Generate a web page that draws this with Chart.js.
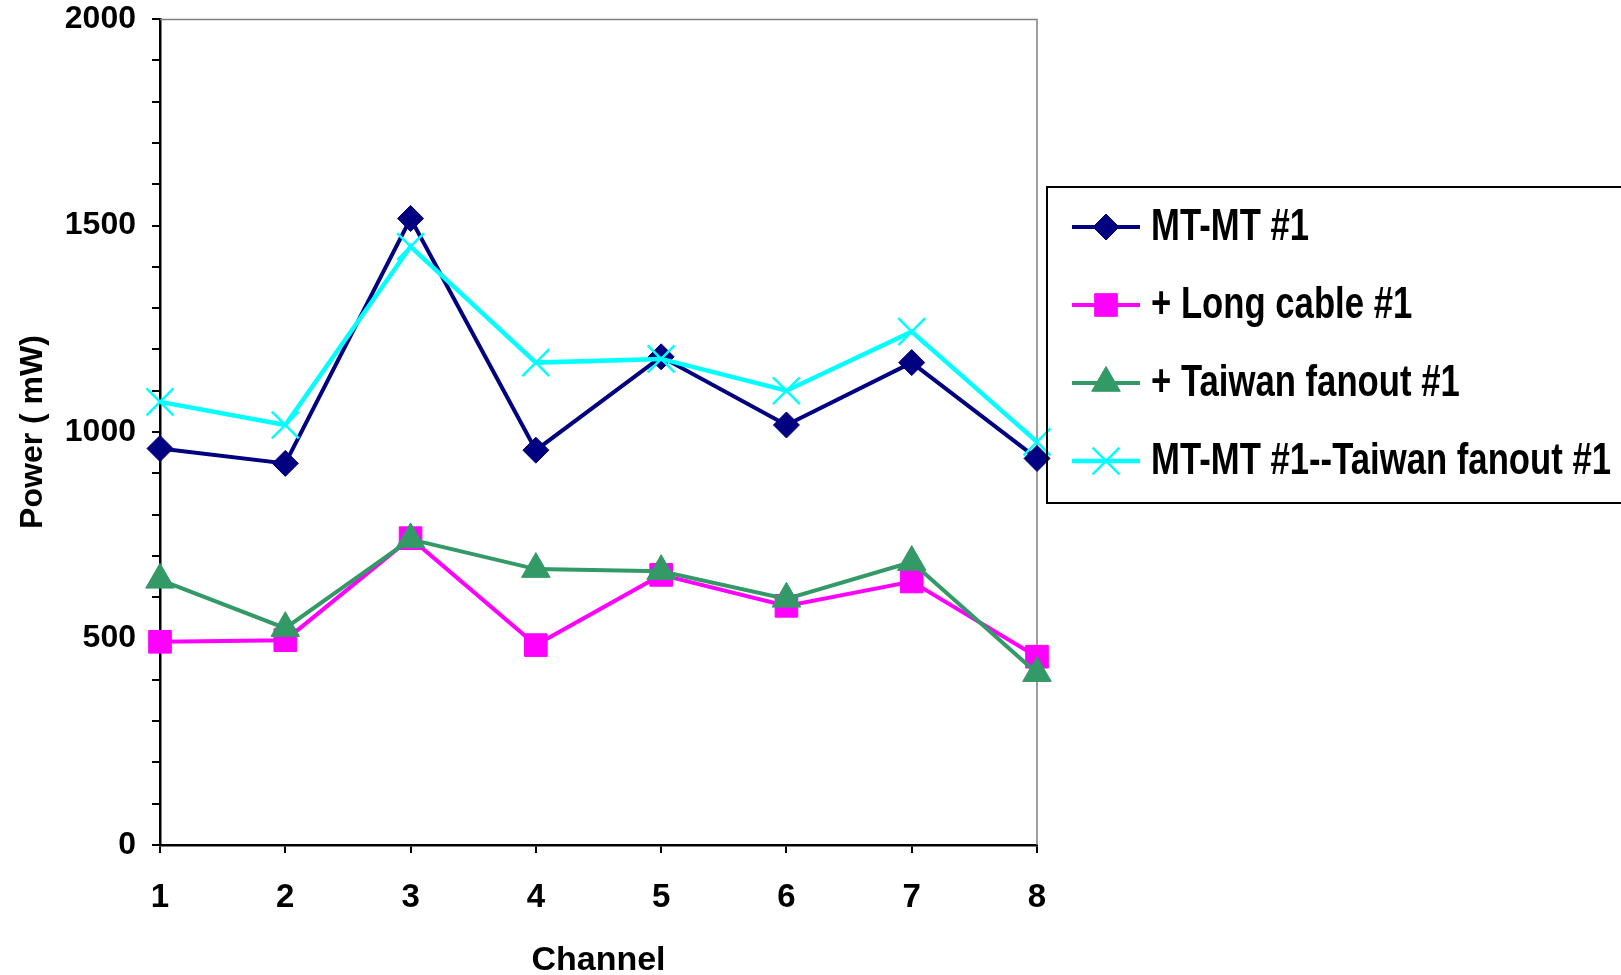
<!DOCTYPE html>
<html>
<head>
<meta charset="utf-8">
<script src="https://cdn.jsdelivr.net/npm/chart.js@4.4.1/dist/chart.umd.min.js"></script>
<style>
  html, body { margin: 0; padding: 0; background: #ffffff; }
  #wrap { width: 1621px; height: 975px; position: relative; }
</style>
</head>
<body>
<div id="wrap"><canvas id="c" width="1621" height="975"></canvas></div>
<script>
// ---- Data ----
const channels = ['1', '2', '3', '4', '5', '6', '7', '8'];
const mtmt1 = [960, 924, 1517, 956, 1182, 1017, 1168, 936];
const longCable1 = [492, 496, 743, 484, 654, 579, 638, 456];
const taiwanFanout1 = [642, 525, 740, 668, 663, 596, 685, 416];
const mtmtTaiwan1 = [1073, 1017, 1449, 1168, 1177, 1100, 1243, 976];
const seriesNames = ['MT-MT #1', '+ Long cable #1', '+ Taiwan fanout #1', 'MT-MT #1--Taiwan fanout #1'];
const yMin = 0, yMax = 2000, yMajor = 500, yMinor = 100;
const xTitle = 'Channel';
const yTitle = 'Power ( mW)';

const BOLD = 'bold';
const FAM = "'Liberation Sans', Arial, Helvetica, sans-serif";
const NARROW = "'Liberation Sans Narrow', 'Arial Narrow', 'Liberation Sans', Arial, sans-serif";

// Frame (top/right grey border of the plot area)
const framePlugin = {
  id: 'frame',
  beforeDatasetsDraw(chart) {
    const {ctx, chartArea: a} = chart;
    ctx.save();
    ctx.strokeStyle = '#808080';
    ctx.lineWidth = 1.5;
    ctx.beginPath();
    ctx.moveTo(a.left, a.top + 0.5);
    ctx.lineTo(a.right, a.top + 0.5);
    ctx.lineTo(a.right, a.bottom);
    ctx.stroke();
    ctx.restore();
  }
};

function drawMarker(ctx, style, x, y, r, color, bw) {
  ctx.save();
  ctx.fillStyle = color;
  ctx.strokeStyle = color;
  ctx.lineWidth = bw;
  ctx.beginPath();
  if (style === 'rectRot') {
    ctx.moveTo(x - r, y); ctx.lineTo(x, y - r); ctx.lineTo(x + r, y); ctx.lineTo(x, y + r); ctx.closePath();
    ctx.fill(); ctx.stroke();
  } else if (style === 'rect') {
    const s = Math.SQRT1_2 * r;
    ctx.rect(x - s, y - s, 2 * s, 2 * s);
    ctx.fill(); ctx.stroke();
  } else if (style === 'triangle') {
    let rad = 0;
    ctx.moveTo(x + Math.sin(rad) * r, y - Math.cos(rad) * r);
    rad += 2 * Math.PI / 3;
    ctx.lineTo(x + Math.sin(rad) * r, y - Math.cos(rad) * r);
    rad += 2 * Math.PI / 3;
    ctx.lineTo(x + Math.sin(rad) * r, y - Math.cos(rad) * r);
    ctx.closePath();
    ctx.fill(); ctx.stroke();
  } else if (style === 'crossRot') {
    const o = Math.SQRT1_2 * r;
    ctx.moveTo(x - o, y - o); ctx.lineTo(x + o, y + o);
    ctx.moveTo(x - o, y + o); ctx.lineTo(x + o, y - o);
    ctx.stroke();
  }
  ctx.restore();
}

// Custom legend box (right side, clipped by canvas edge like the reference)
const legendPlugin = {
  id: 'boxLegend',
  afterDraw(chart) {
    const {ctx} = chart;
    const box = {x: 1047, y: 187, w: 600, h: 316};
    ctx.save();
    ctx.strokeStyle = '#000';
    ctx.lineWidth = 2;
    ctx.strokeRect(box.x, box.y, box.w, box.h);
    const rows = [227, 305, 383, 461];
    ctx.font = BOLD + ' 44px ' + NARROW;
    const longest = ctx.measureText(seriesNames[3]).width;
    const sx = 460 / longest;
    chart.data.datasets.forEach((ds, i) => {
      const y = rows[i];
      ctx.strokeStyle = ds.borderColor;
      ctx.lineWidth = ds.borderWidth;
      ctx.beginPath();
      ctx.moveTo(1072, y);
      ctx.lineTo(1140, y);
      ctx.stroke();
      drawMarker(ctx, ds.pointStyle, 1106, y, ds.pointRadius, ds.pointBackgroundColor, ds.pointBorderWidth);
      ctx.save();
      ctx.fillStyle = '#000';
      ctx.textBaseline = 'middle';
      ctx.textAlign = 'left';
      ctx.font = BOLD + ' 44px ' + NARROW;
      ctx.translate(1151, y + 1);
      ctx.scale(sx, 1);
      ctx.fillText(ds.label, 0, 0);
      ctx.restore();
    });
    ctx.restore();
  }
};

const datasets = [
  {
    label: seriesNames[0], data: mtmt1,
    borderColor: '#000080', backgroundColor: '#000080',
    pointBackgroundColor: '#000080', pointBorderColor: '#000080',
    pointStyle: 'rectRot', pointRadius: 13, pointBorderWidth: 1,
    borderWidth: 4, order: 3
  },
  {
    label: seriesNames[1], data: longCable1,
    borderColor: '#FF00FF', backgroundColor: '#FF00FF',
    pointBackgroundColor: '#FF00FF', pointBorderColor: '#FF00FF',
    pointStyle: 'rect', pointRadius: 16, pointBorderWidth: 1,
    borderWidth: 4, order: 2
  },
  {
    label: seriesNames[2], data: taiwanFanout1,
    borderColor: '#339966', backgroundColor: '#339966',
    pointBackgroundColor: '#339966', pointBorderColor: '#339966',
    pointStyle: 'triangle', pointRadius: 16.5, pointBorderWidth: 1,
    borderWidth: 4, order: 1
  },
  {
    label: seriesNames[3], data: mtmtTaiwan1,
    borderColor: '#00FFFF', backgroundColor: '#00FFFF',
    pointBackgroundColor: '#00FFFF', pointBorderColor: '#00FFFF',
    pointStyle: 'crossRot', pointRadius: 19, pointBorderWidth: 2.5,
    borderWidth: 4.5, order: 0
  }
].map(d => Object.assign({tension: 0, fill: false, clip: false, pointHoverRadius: d.pointRadius}, d));

new Chart(document.getElementById('c'), {
  type: 'line',
  data: { labels: channels, datasets },
  options: {
    responsive: false,
    animation: false,
    devicePixelRatio: 1,
    layout: { autoPadding: false, padding: { top: 19, left: 0, right: 584, bottom: 0 } },
    plugins: { legend: { display: false }, tooltip: { enabled: false } },
    scales: {
      x: {
        type: 'category',
        offset: false,
        border: { color: '#000', width: 2.5 },
        grid: { drawOnChartArea: false, drawTicks: true, tickLength: 8, color: '#000', lineWidth: 2, offset: false },
        ticks: { color: '#000', padding: 25, autoSkip: false, maxRotation: 0, font: { family: FAM, weight: 'bold', size: 33 } },
        title: { display: true, text: xTitle, color: '#000', padding: { top: 0, bottom: 0 }, font: { family: FAM, weight: 'bold', size: 34, lineHeight: 0.85 } },
        afterFit(scale) { scale.height = 130; scale.paddingLeft = 0; scale.paddingRight = 0; }
      },
      y: {
        min: yMin, max: yMax,
        border: { color: '#000', width: 2.5 },
        grid: { drawOnChartArea: false, drawTicks: true, tickLength: 8, color: '#000', lineWidth: 2 },
        ticks: {
          stepSize: yMinor, autoSkip: false, color: '#000', padding: 16,
          font: { family: FAM, weight: 'bold', size: 32 },
          callback: (v) => (v % yMajor === 0 ? String(v) : '')
        },
        title: { display: true, text: yTitle, color: '#000', padding: { top: 14, bottom: 0 }, font: { family: FAM, weight: 'bold', size: 32, lineHeight: 1.2 } },
        afterFit(scale) { scale.width = 160; scale.paddingTop = 0; scale.paddingBottom = 0; }
      }
    }
  },
  plugins: [framePlugin, legendPlugin]
});
</script>
</body>
</html>
